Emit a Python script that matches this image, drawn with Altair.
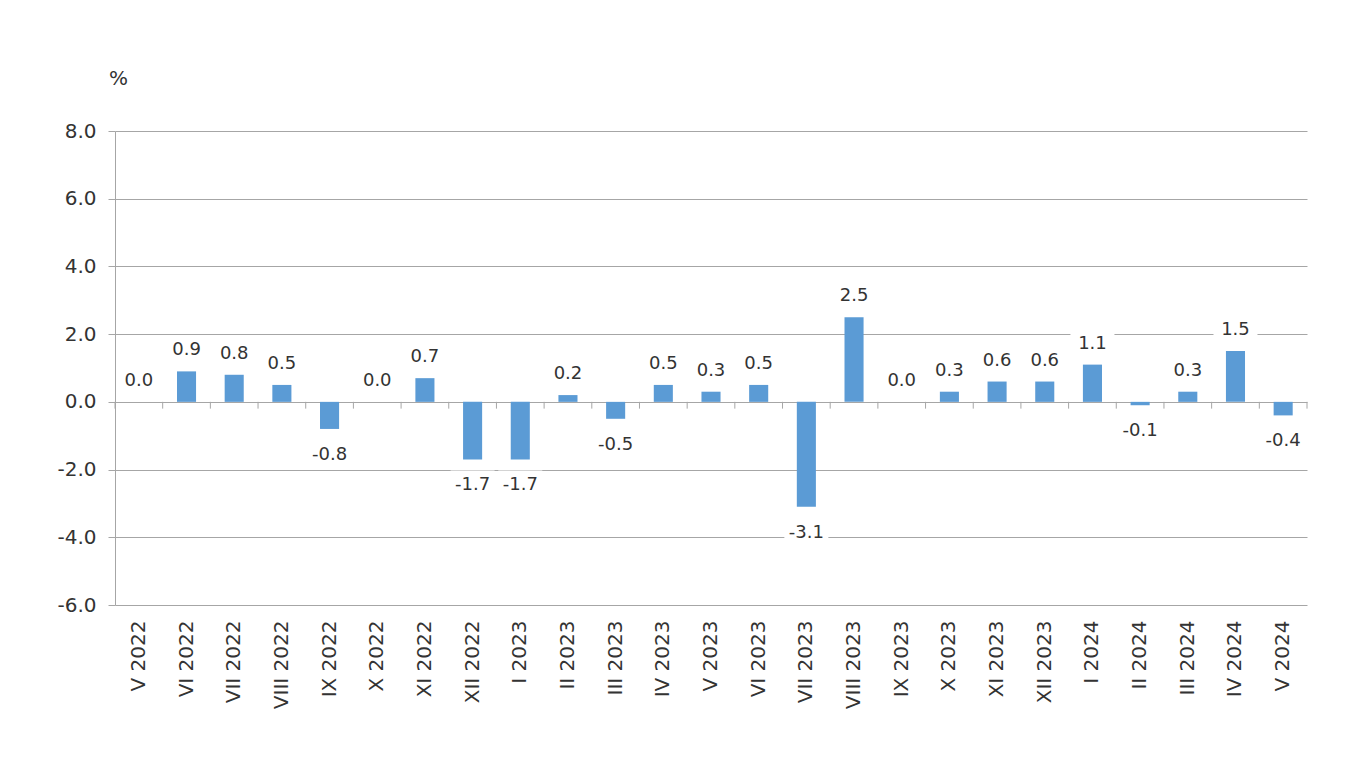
import altair as alt
import pandas as pd

months = ["V 2022", "VI 2022", "VII 2022", "VIII 2022", "IX 2022", "X 2022", "XI 2022",
          "XII 2022", "I 2023", "II 2023", "III 2023", "IV 2023", "V 2023", "VI 2023",
          "VII 2023", "VIII 2023", "IX 2023", "X 2023", "XI 2023", "XII 2023",
          "I 2024", "II 2024", "III 2024", "IV 2024", "V 2024"]
values = [0.0, 0.9, 0.8, 0.5, -0.8, 0.0, 0.7, -1.7, -1.7, 0.2, -0.5, 0.5, 0.3, 0.5,
          -3.1, 2.5, 0.0, 0.3, 0.6, 0.6, 1.1, -0.1, 0.3, 1.5, -0.4]
y_ticks = [-6, -4, -2, 0, 2, 4, 6, 8]

df = pd.DataFrame({"month": months, "value": values})
df["label"] = [f"{v:.1f}" for v in values]

FONT = "DejaVu Sans"
GRID = "#a6a6a6"
TXT = "#333333"
BAR = "#5b9bd5"

xscale = alt.Scale(paddingInner=0, paddingOuter=0)
yscale = alt.Scale(domain=[-6, 8], nice=False, zero=False)

x_axis = alt.Axis(labelAngle=-90, labelFontSize=20, labelColor=TXT, labelFont=FONT,
                  domain=False, ticks=False, labelPadding=15, grid=False)
y_axis = alt.Axis(values=y_ticks, labelExpr="replace(format(datum.value, '.1f'), '\u2212', '-')",
                  labelFontSize=20, labelColor=TXT, labelFont=FONT, labelPadding=12,
                  tickSize=7, tickColor=GRID, domainColor=GRID, gridColor=GRID,
                  title="%", titleAngle=0, titleX=3, titleY=-53, titleAlign="center",
                  titleBaseline="middle", titleFontSize=20, titleFontWeight="normal",
                  titleColor=TXT, titleFont=FONT)

base = alt.Chart(df)

X = alt.X("month:N", sort=months, scale=xscale, axis=x_axis, title=None)
Y = alt.Y("value:Q", scale=yscale, axis=y_axis, title="%")

bars = base.mark_bar(color=BAR, width=alt.RelativeBandSize(0.4)).encode(x=X, y=Y)

pos = "datum.value >= 0"
neg = "datum.value < 0"

box_pos = base.transform_filter(pos).mark_tick(
    color="white", opacity=1, thickness=30, size=44, yOffset=-21
).encode(x=alt.X("month:N", sort=months), y=alt.Y("value:Q"))
box_neg = base.transform_filter(neg).mark_tick(
    color="white", opacity=1, thickness=30, size=44, yOffset=26
).encode(x=alt.X("month:N", sort=months), y=alt.Y("value:Q"))

txt_pos = base.transform_filter(pos).mark_text(
    fontSize=18, font=FONT, color=TXT, baseline="middle", yOffset=-21
).encode(x=alt.X("month:N", sort=months), y=alt.Y("value:Q"), text="label:N")
txt_neg = base.transform_filter(neg).mark_text(
    fontSize=18, font=FONT, color=TXT, baseline="middle", yOffset=26
).encode(x=alt.X("month:N", sort=months), y=alt.Y("value:Q"), text="label:N")

ticks = base.mark_rule(color=GRID, strokeWidth=1).encode(
    x=alt.X("month:N", sort=months, bandPosition=0),
    y=alt.datum(0), y2=alt.datum(-0.2))
end_tick = base.transform_filter(f"datum.month == '{months[-1]}'").mark_rule(
    color=GRID, strokeWidth=1).encode(
    x=alt.X("month:N", sort=months, bandPosition=1),
    y=alt.datum(0), y2=alt.datum(-0.2))

chart = alt.layer(box_pos, box_neg, bars, ticks, end_tick, txt_pos, txt_neg).properties(
    width=1192, height=474,
    padding={"left": 107, "top": 123, "right": 40, "bottom": 130},
    autosize="none",
    background="white",
).configure_view(stroke=None)

chart.save("out.html", embed_options={"renderer": "svg", "actions": False})
